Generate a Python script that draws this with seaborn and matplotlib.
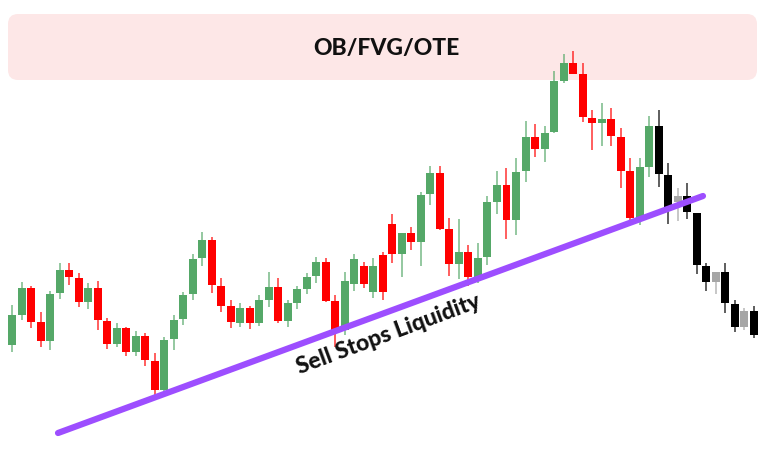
"""
Sell-stops liquidity sketch - candlestick chart with trendline
"""
import matplotlib
matplotlib.use("Agg")
import matplotlib.pyplot as plt
from matplotlib.patches import FancyBboxPatch
import numpy as np
import pandas as pd
import seaborn as sns


# OHLC values (arbitrary price units)
opens = [108, 138, 165, 131, 112, 160, 183, 175, 151, 165, 132, 109, 125, 101, 117, 92,
         63, 114, 134, 159, 195, 213, 167, 147, 130, 145, 130, 153, 166, 132, 150, 164,
         177, 191, 152, 123, 169, 187, 161, 198, 229, 199, 220, 211, 259, 280, 224, 189,
         201, 176, 196, 251, 268, 233, 282, 316, 304, 321, 372, 390, 379, 335, 330, 334,
         316, 282, 235, 286, 327, 278, 251, 257, 240, 187, 171, 181, 149, 126, 142]
highs = [148, 171, 167, 141, 162, 190, 190, 180, 170, 172, 135, 130, 126, 122, 120, 100,
         116, 138, 161, 199, 221, 216, 175, 153, 150, 147, 158, 181, 175, 153, 167, 180,
         196, 195, 158, 181, 199, 191, 195, 201, 239, 220, 226, 261, 287, 287, 235, 234,
         208, 210, 257, 282, 285, 295, 332, 329, 327, 382, 399, 402, 390, 343, 350, 345,
         325, 295, 295, 337, 343, 290, 265, 270, 240, 190, 181, 190, 153, 145, 147]
lows = [101, 133, 125, 106, 103, 154, 168, 146, 144, 123, 104, 106, 97, 97, 87, 58,
        61, 103, 128, 153, 187, 160, 141, 125, 126, 124, 127, 146, 130, 126, 144, 159,
        170, 151, 106, 118, 162, 165, 155, 153, 190, 176, 203, 187, 248, 223, 177, 174,
        167, 170, 188, 239, 214, 218, 271, 296, 291, 320, 370, 379, 331, 303, 307, 307,
        265, 232, 228, 276, 266, 229, 232, 234, 179, 162, 159, 140, 121, 123, 115]
closes = [138, 165, 131, 112, 159, 183, 176, 151, 165, 133, 109, 125, 101, 117, 93, 63,
          113, 133, 158, 194, 213, 168, 147, 131, 145, 130, 153, 166, 132, 150, 164, 176,
          191, 152, 123, 172, 194, 169, 187, 161, 199, 220, 211, 258, 280, 224, 189, 201,
          176, 195, 251, 268, 233, 281, 316, 304, 320, 372, 390, 379, 336, 330, 334, 317,
          282, 235, 286, 327, 279, 246, 257, 241, 188, 171, 181, 150, 126, 142, 118]

# trendline under the lows
trend_x = [4.84, 72.66]
trend_y = [20, 257]

HEADER = "OB/FVG/OTE"
LINE_LABEL = "Sell Stops Liquidity"

BREAK_AT = 68  # candles from here on are drawn in black / grey
UP, DOWN = "#55A868", "#FF0000"
UP_AFTER, DOWN_AFTER = "#A6A6A6", "#000000"
PURPLE = "#9D4EFF"

sns.set_theme(style="white")
plt.rcParams["font.family"] = ["Lato", "DejaVu Sans"]

df = pd.DataFrame({"open": opens, "high": highs, "low": lows, "close": closes})
df["idx"] = np.arange(len(df))
bull = df["close"] >= df["open"]
after = df["idx"] >= BREAK_AT
df["color"] = np.where(after, np.where(bull, UP_AFTER, DOWN_AFTER), np.where(bull, UP, DOWN))

fig = plt.figure(figsize=(7.72, 4.53), dpi=100)
ax = fig.add_axes([0, 0, 1, 1])

# header box (inches on the figure)
box = FancyBboxPatch((0.08, 3.73), 7.49, 0.66, boxstyle="round,pad=0,rounding_size=0.1",
                     transform=fig.dpi_scale_trans, facecolor="#FDE7E7", edgecolor="none",
                     zorder=0)
ax.add_patch(box)
ax.text(0.5, 1 - 48 / 453, HEADER, transform=ax.transAxes, ha="center", va="center",
        fontsize=16.5, fontweight="black", color="#111111", zorder=5)

# wicks + bodies
ax.vlines(df["idx"], df["low"], df["high"], colors=df["color"], linewidth=1.1,
          alpha=0.8, zorder=2)
body_lo = df[["open", "close"]].min(axis=1)
body_h = (df["close"] - df["open"]).abs().clip(lower=1.5)
ax.bar(df["idx"], body_h, bottom=body_lo, width=0.84, color=df["color"],
       edgecolor="none", zorder=3)

sns.lineplot(x=trend_x, y=trend_y, ax=ax, color=PURPLE, linewidth=4.5, zorder=4)
ax.text(39.6, 119, LINE_LABEL, rotation=20.3, rotation_mode="anchor", ha="center",
        va="center", fontsize=16.5, fontweight="black", color="#111111", zorder=5)

ax.set_xlim(-1.262, 79.92)
ax.set_ylim(0, 453)
ax.axis("off")

fig.savefig("out.png", dpi=100)
